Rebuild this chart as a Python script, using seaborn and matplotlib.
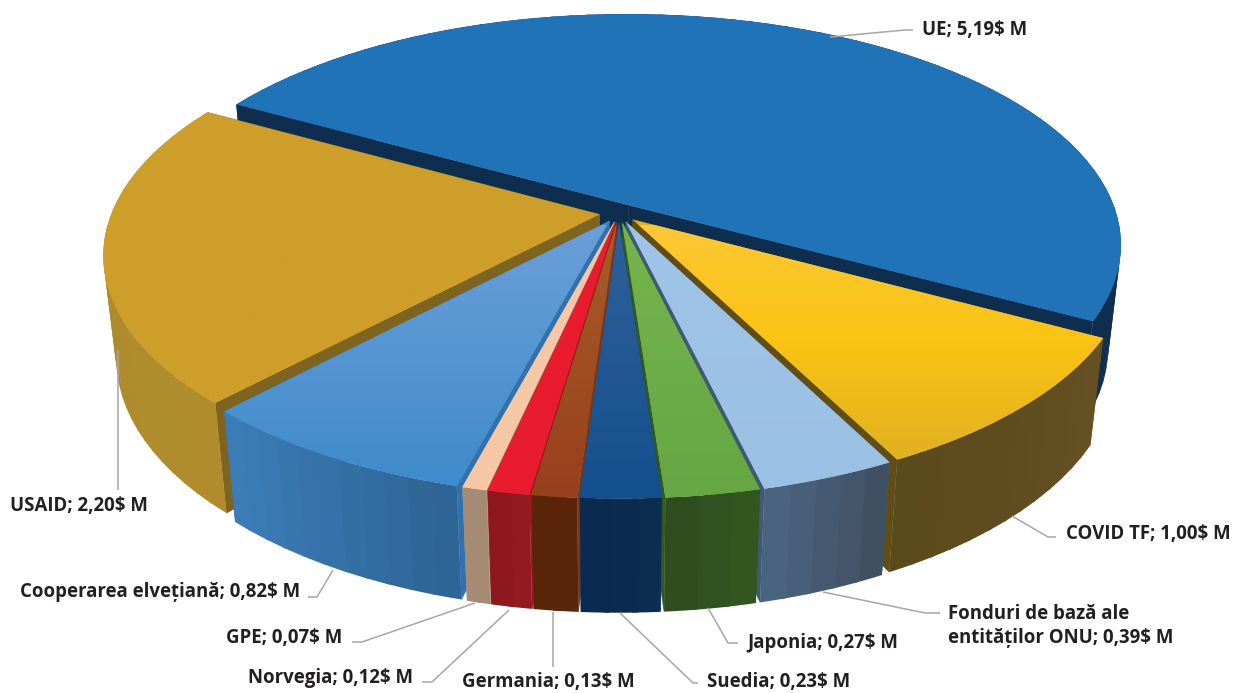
import numpy as np
import matplotlib
matplotlib.use("Agg")
import matplotlib.pyplot as plt
from matplotlib.patches import Polygon
import seaborn as sns

sns.set_theme(style="white")
plt.rcParams['font.family'] = ['Open Sans', 'Noto Sans', 'DejaVu Sans']

names = ["UE", "COVID TF", "Fonduri de bază ale\nentităților ONU", "Japonia", "Suedia",
         "Germania", "Norvegia", "GPE", "Cooperarea elvețiană", "USAID"]
values = [5.19, 1.00, 0.39, 0.27, 0.23, 0.13, 0.12, 0.07, 0.82, 2.20]

top_stops = [["#2173b8", "#2173b8"],
             ["#fdc835", "#fbc312", "#e0b122"],
             ["#9fc4e7", "#9ac0e4"],
             ["#76b44c", "#66a743"],
             ["#30609a", "#14508e"],
             ["#a85c26", "#97401e"],
             ["#e81c2e", "#e81c2e"],
             ["#f5c8a8", "#f5c7a5"],
             ["#6a9fd8", "#3f8bcb"],
             ["#cd9e2a", "#cd9e2a"]]
# wall colours, left end then right end of each slice as seen from the front
wall_a = ["#0f2d4f", "#5b4a1c", "#4a6480", "#2e4e20", "#0a2a50", "#5a2508", "#8f1820", "#a58a74", "#3c7db8", "#ab8a2d"]
wall_b = ["#0f2d4f", "#655022", "#3f5062", "#33561f", "#0c2c50", "#5a2508", "#931a20", "#a58a74", "#2f6596", "#b08c2c"]
cut = ["#0e2e50", "#624e14", "#3f5a75", "#2f5a22", "#1a4a80", "#7a3814", "#a01822", "#b89880", "#2f72ad", "#7f6420"]

label_pos = [(922, 30), (1066, 534), (948, 626), (747, 643), (707, 682),
             (462, 682), (248, 678), (226, 638), (20, 592), (10, 506)]
leaders = [[(830, 37), (905, 30), (913, 30)],
           [(1012, 516), (1048, 537), (1056, 537)],
           [(823, 592), (925, 613), (940, 613)],
           [(708, 608), (728, 643), (738, 643)],
           [(620, 613), (693, 683), (698, 683)],
           [(553, 612), (553, 667)],
           [(509, 610), (432, 682), (422, 682)],
           [(475, 603), (362, 642), (352, 642)],
           [(333, 570), (317, 597), (308, 597)],
           [(118, 350), (118, 490)]]

CX, CY, A, B, H, K, M, EXPL, START = 619, 213, 488, 226, 104, 0.17, 0.025, 0.04, 150.8


def project(X, Y, z):
    w = 1 + K * Y + M * z
    return CX + A * X / w, CY + (-B * Y + H * z) / w


fig = plt.figure(figsize=(12.35, 6.93), dpi=100)
ax = fig.add_axes([0, 0, 1, 1])
ax.set_xlim(0, 1235)
ax.set_ylim(693, 0)
ax.axis("off")

vals = np.array(values)
sweep = vals / vals.sum() * 360
ends = START - np.cumsum(sweep)
starts = ends + sweep
bis = np.radians((starts + ends) / 2)
order = np.argsort(-np.sin(bis))

for i in order:
    ox, oy = EXPL * np.cos(bis[i]), EXPL * np.sin(bis[i])
    t = np.radians(np.linspace(starts[i], ends[i], max(int(sweep[i] * 2), 8)))
    rx, ry = ox + np.cos(t), oy + np.sin(t)

    # cut faces
    for j in (0, -1):
        px, py = project(np.array([ox, rx[j], rx[j], ox]), np.array([oy, ry[j], ry[j], oy]),
                         np.array([0, 0, 1, 1]))
        ax.fill(px, py, color=cut[i], lw=0.3, zorder=1)

    # outer wall in bands, each overlapping the previous one; the arc runs clockwise
    n_bands = max(int(sweep[i] / 2.5), 2)
    pal = sns.blend_palette([wall_b[i], wall_a[i]], n_bands)
    for b in range(n_bands):
        lo = b * (len(t) - 1) // n_bands
        hi = (len(t) - 1) if b == n_bands - 1 else (b + 1) * (len(t) - 1) // n_bands + 1
        sx, sy = rx[lo:hi + 1], ry[lo:hi + 1]
        xq = np.r_[sx, sx[::-1]]
        yq = np.r_[sy, sy[::-1]]
        zq = np.r_[np.zeros(len(sx)), np.ones(len(sx))]
        px, py = project(xq, yq, zq)
        ax.fill(px, py, color=pal[b], lw=0, zorder=1)

    # top face with a vertical gradient
    px, py = project(np.r_[ox, rx], np.r_[oy, ry], 0 * np.r_[ox, rx])
    poly = Polygon(np.c_[px, py], closed=True, facecolor=top_stops[i][-1], edgecolor="none", zorder=1)
    ax.add_patch(poly)
    grad = np.array(sns.blend_palette(top_stops[i], 64))[:, :3].reshape(64, 1, 3)
    im = ax.imshow(grad, extent=(px.min(), px.max(), max(py.max(), 226), 225), aspect="auto",
                   interpolation="bilinear", zorder=1)
    im.set_clip_path(poly)
    ax.set_xlim(0, 1235)
    ax.set_ylim(693, 0)

# leaders + labels
for i in range(len(names)):
    xs, ys = zip(*leaders[i])
    ax.plot(xs, ys, color="#a6a6a6", lw=1.1, zorder=5, solid_capstyle="butt")
    txt = f"{names[i]}; {values[i]:.2f}$ M".replace(".", ",")
    ax.text(label_pos[i][0], label_pos[i][1], txt, ha="left", va="center", fontsize=13.45,
            fontweight="bold", color="#231f20", linespacing=1.3, zorder=6)

fig.savefig("out.png", dpi=100, facecolor="white")
